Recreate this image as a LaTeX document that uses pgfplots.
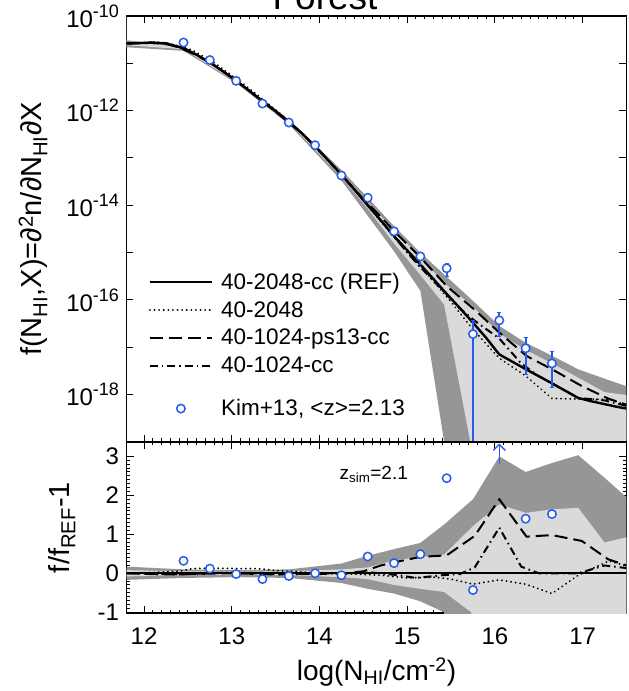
\documentclass[border=0pt]{standalone}
\usepackage{fontspec}
\setmainfont{Liberation Sans}
\usepackage{pgfplots}
\pgfplotsset{compat=1.18}
\usetikzlibrary{arrows.meta}
\definecolor{kimblue}{RGB}{40,90,235}
\definecolor{dgrey}{RGB}{150,150,150}
\definecolor{lgrey}{RGB}{218,218,218}
\newcommand{\tl}{\fontsize{24}{28}\selectfont}
\newcommand{\al}{\fontsize{29}{34}\selectfont}
\newcommand{\ex}[1]{10\raisebox{0.42em}{\fontsize{18}{20}\selectfont #1}}
\pgfplotsset{
  panel/.style={
    scale only axis, width=500pt,
    xmin=11.8, xmax=17.5,
    axis line style={line width=1.2pt},
    every tick/.style={black, line width=1pt},
    major tick length=7pt, minor tick length=3.5pt,
    xtick={12,13,14,15,16,17}, minor x tick num=9,
    tick align=inside,
    /pgf/number format/assume math mode=true,
    tick label style={font=\tl},
    yticklabel style={xshift=-4pt},
    xticklabel style={yshift=-11pt},
    label style={font=\al},
  },
  refl/.style={black, line width=2.4pt},
  dottl/.style={black, line width=2pt, dash pattern=on 0.1pt off 4.5pt, line cap=round},
  dashl/.style={black, line width=2pt, dash pattern=on 13pt off 6pt},
  dashdotl/.style={black, line width=2pt, dash pattern=on 8pt off 4pt on 1.5pt off 4pt},
}
\begin{document}
\begin{tikzpicture}
\useasboundingbox (0pt,0pt) rectangle (629pt,691pt);
\node[anchor=base, font=\fontsize{37}{42}\selectfont] at (325pt,681.5pt) {Forest};
% ---------------- top panel ----------------
\begin{axis}[panel, at={(126.5pt,249pt)}, anchor=south west, height=426pt,
  ymin=-19, ymax=-10,
  ytick={-19,-18,-17,-16,-15,-14,-13,-12,-11,-10},
  yticklabels={,\ex{-18},,\ex{-16},,\ex{-14},,\ex{-12},,\ex{-10}},
  xticklabels={},
  ylabel={f(N\textsubscript{HI},X)=∂\textsuperscript{2}n/∂N\textsubscript{HI}∂X},
  ylabel style={at={(axis description cs:-0.169,0.5)}, anchor=base},
  legend style={draw=none, fill=none, at={(axis description cs:0.038,0.406)}, anchor=north west,
    font=\fontsize{22.5}{26}\selectfont, row sep=6.5pt,
    /tikz/every odd column/.append style={column sep=6pt}},
  legend cell align=left,
  legend image code/.code={\draw[mark repeat=2,mark phase=2,#1] plot coordinates {(0pt,0pt) (31pt,0pt) (62pt,0pt)};},
]
\addplot[fill=dgrey, draw=none, forget plot] coordinates {
 (11.80,-10.512) (12.45,-10.639) (13.05,-11.337) (13.65,-12.189) (14.25,-13.253) (14.55,-13.839)
 (14.85,-14.440) (15.15,-15.000) (15.42,-15.458) (15.75,-16.018) (16.05,-16.548) (16.35,-16.904)
 (16.65,-17.177) (16.95,-17.465) (17.25,-17.662) (17.55,-17.855)
 (17.55,-19.1) (15.43,-19.1) (15.15,-15.803) (14.85,-14.969) (14.55,-14.222) (14.25,-13.475)
 (13.65,-12.286) (13.05,-11.416) (12.45,-10.736) (11.80,-10.661)} \closedcycle;
\addplot[fill=lgrey, draw=none, forget plot] coordinates {
 (11.80,-10.547) (12.45,-10.659) (13.05,-11.353) (13.65,-12.209) (14.25,-13.309) (14.55,-13.939)
 (14.85,-14.526) (15.15,-15.098) (15.42,-15.640) (15.75,-16.136) (16.05,-16.708) (16.35,-17.053)
 (16.65,-17.338) (16.95,-17.642) (17.25,-17.947) (17.55,-18.020)
 (17.55,-19.1) (15.73,-19.1) (15.42,-16.094) (15.15,-15.472) (14.85,-14.805) (14.55,-14.071)
 (14.25,-13.396) (13.65,-12.252) (13.05,-11.388) (12.45,-10.702) (11.80,-10.616)} \closedcycle;
\addplot[refl] coordinates {
 (11.80,-10.580) (11.95,-10.572) (12.10,-10.562) (12.25,-10.578) (12.40,-10.655) (12.45,-10.680)
 (12.60,-10.820) (12.75,-10.980) (12.90,-11.170) (13.05,-11.370) (13.20,-11.580) (13.35,-11.800)
 (13.50,-12.010) (13.65,-12.230) (13.80,-12.480) (13.95,-12.750) (14.10,-13.050) (14.25,-13.350)
 (14.40,-13.670) (14.55,-14.000) (14.70,-14.320) (14.85,-14.650) (15.00,-14.950) (15.15,-15.250)
 (15.30,-15.560) (15.45,-15.870) (15.60,-16.170) (15.75,-16.480) (15.90,-16.800) (16.05,-17.150)
 (16.35,-17.460) (16.65,-17.760) (16.95,-18.070) (17.10,-18.140) (17.25,-18.200) (17.40,-18.260)
 (17.55,-18.310)};
\addlegendentry{40-2048-cc (REF)}
\addplot[dottl] coordinates {
 (11.80,-10.580) (11.95,-10.572) (12.10,-10.551) (12.25,-10.570) (12.40,-10.634) (12.55,-10.721)
 (12.80,-10.987) (13.10,-11.391) (13.30,-11.680) (13.50,-11.981) (13.80,-12.467) (14.10,-13.050)
 (14.40,-13.679) (14.70,-14.342) (15.00,-15.006) (15.30,-15.606) (15.50,-16.041) (15.75,-16.623)
 (16.05,-17.231) (16.35,-17.603) (16.65,-18.079) (16.95,-18.092) (17.30,-18.099) (17.55,-18.249)};
\addlegendentry{40-2048}
\addplot[dashl] coordinates {
 (11.80,-10.580) (11.95,-10.575) (12.10,-10.568) (12.25,-10.590) (12.40,-10.665) (12.60,-10.830)
 (12.80,-11.043) (13.00,-11.300) (13.20,-11.585) (13.50,-12.023) (13.80,-12.480) (14.00,-12.850)
 (14.30,-13.460) (14.50,-13.869) (14.70,-14.241) (14.85,-14.543) (15.15,-15.098) (15.45,-15.706)
 (15.77,-16.208) (16.05,-16.688) (16.36,-17.182) (16.65,-17.463) (16.99,-17.818) (17.29,-18.081)
 (17.54,-18.237)};
\addlegendentry{40-1024-ps13-cc}
\addplot[dashdotl] coordinates {
 (11.80,-10.580) (11.95,-10.572) (12.10,-10.562) (12.25,-10.578) (12.40,-10.655) (12.60,-10.820)
 (12.80,-11.040) (13.00,-11.291) (13.20,-11.580) (13.50,-12.010) (13.80,-12.480) (14.00,-12.859)
 (14.30,-13.456) (14.60,-14.098) (14.90,-14.772) (15.10,-15.206) (15.40,-15.789) (15.60,-16.179)
 (15.77,-16.439) (16.05,-16.814) (16.30,-17.342) (16.50,-17.610) (16.95,-18.070) (17.25,-18.121)
 (17.55,-18.261)};
\addlegendentry{40-1024-cc}
\addplot[kimblue, line width=2pt, draw=none, mark=none, forget plot,
  error bars/.cd, y dir=both, y explicit, error bar style={kimblue, line width=2pt}]
  table[x=x, y=y, y error plus=ep, y error minus=em] {
 x y ep em
 14.55 -13.84 0.03 0.03
 14.85 -14.55 0.05 0.06
 15.15 -15.08 0.07 0.17
 15.45 -15.33 0.10 0.16
 15.75 -16.72 0.30 5.00
 16.05 -16.43 0.18 0.33
 16.35 -17.02 0.23 0.55
 16.65 -17.34 0.25 0.51
};
\addlegendimage{empty legend}
\addlegendentry{\rule{0pt}{3pt}}
\addplot[only marks, mark=*, mark size=4.2pt, mark options={fill=white, draw=kimblue, line width=1.5pt}] coordinates {
 (12.45,-10.56) (12.75,-10.93) (13.05,-11.37) (13.35,-11.85) (13.65,-12.25) (13.95,-12.73)
 (14.25,-13.37) (14.55,-13.84) (14.85,-14.55) (15.15,-15.08) (15.45,-15.33) (15.75,-16.72)
 (16.05,-16.43) (16.35,-17.02) (16.65,-17.34)};
\addlegendentry{Kim+13, <z>=2.13}
\end{axis}
% ---------------- bottom panel ----------------
\begin{axis}[panel, at={(126.5pt,78pt)}, anchor=south west, height=171pt,
  ymin=-1.02, ymax=3.37,
  ytick={-1,0,1,2,3}, yticklabels={-1,0,1,2,3}, minor y tick num=9,
  xticklabels={12,13,14,15,16,17},
  xlabel={log(N\textsubscript{HI}/cm\textsuperscript{-2})},
  xlabel style={at={(axis description cs:0.5,-0.392)}, anchor=base, font=\fontsize{28}{32}\selectfont},
  ylabel={f/f\textsubscript{REF}-1},
  ylabel style={at={(axis description cs:-0.113,0.5)}, anchor=base},
]
\addplot[fill=dgrey, draw=none] coordinates {
 (11.80,0.17) (12.45,0.10) (13.05,0.08) (13.65,0.10) (14.25,0.25) (14.55,0.45) (14.85,0.62)
 (15.15,0.78) (15.42,1.25) (15.75,1.90) (16.05,3.00) (16.35,2.60) (16.65,2.83) (16.95,3.03)
 (17.25,2.45) (17.55,1.85)
 (17.55,-1.5) (15.43,-1.5) (15.42,-1.0) (15.15,-0.72) (14.85,-0.52) (14.55,-0.40) (14.25,-0.25)
 (13.65,-0.12) (13.05,-0.10) (12.45,-0.12) (11.80,-0.17)} \closedcycle;
\addplot[fill=lgrey, draw=none] coordinates {
 (11.80,0.08) (12.45,0.05) (13.05,0.04) (13.65,0.05) (14.25,0.10) (14.55,0.15) (14.85,0.33)
 (15.15,0.42) (15.42,0.48) (15.75,1.21) (16.05,1.77) (16.35,1.55) (16.65,1.64) (16.95,1.68)
 (17.25,0.79) (17.55,0.95)
 (17.55,-1.5) (15.74,-1.5) (15.73,-1.0) (15.42,-0.48) (15.15,-0.40) (14.85,-0.30) (14.55,-0.15)
 (14.25,-0.10) (13.65,-0.05) (13.05,-0.04) (12.45,-0.05) (11.80,-0.08)} \closedcycle;
\addplot[dottl] coordinates {
 (11.80,0.00) (12.10,0.02) (12.40,0.05) (12.55,0.12) (12.80,0.13) (13.10,0.12) (13.30,0.12)
 (13.50,0.07) (13.80,0.03) (14.10,0.00) (14.40,-0.02) (14.70,-0.05) (15.00,-0.12) (15.30,-0.10)
 (15.50,-0.15) (15.75,-0.28) (16.05,-0.17) (16.35,-0.28) (16.65,-0.52) (16.95,-0.05) (17.30,0.32)
 (17.55,0.15)};
\addplot[dashl] coordinates {
 (11.80,0.00) (12.20,-0.03) (12.50,-0.02) (13.00,0.00) (13.50,-0.03) (14.00,0.00) (14.30,0.00)
 (14.50,0.05) (14.70,0.20) (14.85,0.28) (15.15,0.42) (15.45,0.46) (15.77,0.96) (16.05,1.90)
 (16.36,0.94) (16.65,0.98) (16.99,0.83) (17.29,0.36) (17.54,0.17)};
\addplot[dashdotl] coordinates {
 (11.80,0.00) (12.40,-0.03) (13.00,0.02) (13.60,-0.03) (14.00,-0.02) (14.60,0.02) (14.90,-0.05)
 (15.10,-0.12) (15.40,-0.05) (15.60,-0.02) (15.77,0.15) (16.05,1.17) (16.30,0.17) (16.50,0.00)
 (16.95,0.00) (17.25,0.20) (17.55,0.12)};
\addplot[refl] coordinates {(11.80,0) (17.55,0)};
\addplot[kimblue, line width=1.3pt, -{Straight Barb[length=6pt,width=12pt]}] coordinates {(16.05,2.80) (16.05,3.33)};
\addplot[only marks, mark=*, mark size=4.2pt, mark options={fill=white, draw=kimblue, line width=1.5pt}] coordinates {
 (12.45,0.32) (12.75,0.12) (13.05,-0.02) (13.35,-0.15) (13.65,-0.07) (13.95,0.00) (14.25,-0.05)
 (14.55,0.43) (14.85,0.26) (15.15,0.49) (15.45,2.44) (15.75,-0.43) (16.35,1.40) (16.65,1.52)};
\node[anchor=base west, font=\fontsize{19}{22}\selectfont] at (axis cs:14.19,2.42) {z\textsubscript{sim}=2.1};
\end{axis}
\end{tikzpicture}
\end{document}
